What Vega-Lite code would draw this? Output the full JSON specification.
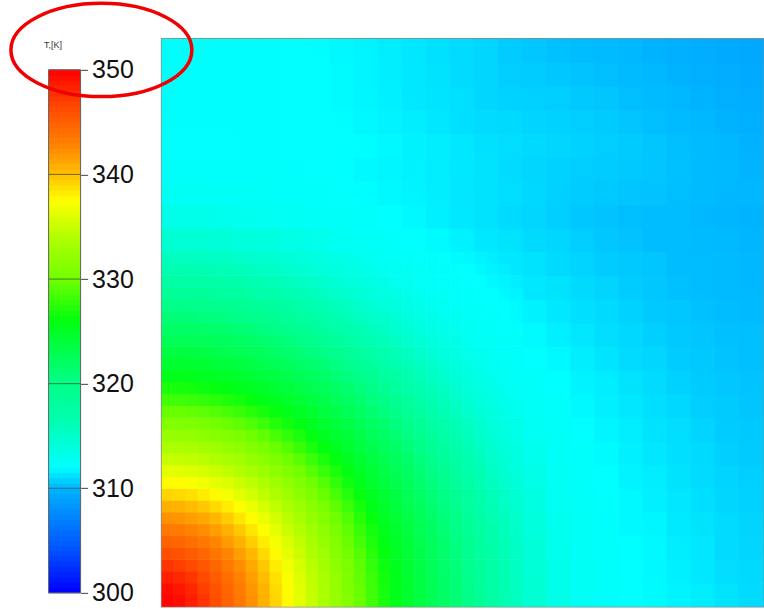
{
"$schema": "https://vega.github.io/schema/vega-lite/v6.json",
"padding": {"left": 7.6, "top": 0.85, "right": 0, "bottom": 0},
"autosize": {"type": "pad"},
"background": "white",
"bounds": "flush",
"spacing": 81,
"config": {"view": {"stroke": null}, "font": "Liberation Sans"},
"datasets": {
"bar": [{"t":300.25},{"t":300.75},{"t":301.25},{"t":301.75},{"t":302.25},{"t":302.75},{"t":303.25},{"t":303.75},{"t":304.25},{"t":304.75},{"t":305.25},{"t":305.75},{"t":306.25},{"t":306.75},{"t":307.25},{"t":307.75},{"t":308.25},{"t":308.75},{"t":309.25},{"t":309.75},{"t":310.25},{"t":310.75},{"t":311.25},{"t":311.75},{"t":312.25},{"t":312.75},{"t":313.25},{"t":313.75},{"t":314.25},{"t":314.75},{"t":315.25},{"t":315.75},{"t":316.25},{"t":316.75},{"t":317.25},{"t":317.75},{"t":318.25},{"t":318.75},{"t":319.25},{"t":319.75},{"t":320.25},{"t":320.75},{"t":321.25},{"t":321.75},{"t":322.25},{"t":322.75},{"t":323.25},{"t":323.75},{"t":324.25},{"t":324.75},{"t":325.25},{"t":325.75},{"t":326.25},{"t":326.75},{"t":327.25},{"t":327.75},{"t":328.25},{"t":328.75},{"t":329.25},{"t":329.75},{"t":330.25},{"t":330.75},{"t":331.25},{"t":331.75},{"t":332.25},{"t":332.75},{"t":333.25},{"t":333.75},{"t":334.25},{"t":334.75},{"t":335.25},{"t":335.75},{"t":336.25},{"t":336.75},{"t":337.25},{"t":337.75},{"t":338.25},{"t":338.75},{"t":339.25},{"t":339.75},{"t":340.25},{"t":340.75},{"t":341.25},{"t":341.75},{"t":342.25},{"t":342.75},{"t":343.25},{"t":343.75},{"t":344.25},{"t":344.75},{"t":345.25},{"t":345.75},{"t":346.25},{"t":346.75},{"t":347.25},{"t":347.75},{"t":348.25},{"t":348.75},{"t":349.25},{"t":349.75}],
"ticks": [{"t":310},{"t":320},{"t":330},{"t":340}],
"note": [{"i":-3.0,"j":23.03}],
"fine": [
{"i":-0.25,"j":-0.25,"t":349.8},{"i":0.25,"j":-0.25,"t":349.4},{"i":0.75,"j":-0.25,"t":348.5},{"i":1.25,"j":-0.25,"t":347.4},{"i":1.75,"j":-0.25,"t":346.1},{"i":2.25,"j":-0.25,"t":344.8},{"i":2.75,"j":-0.25,"t":343.5},{"i":3.25,"j":-0.25,"t":342.2},{"i":3.75,"j":-0.25,"t":340.7},{"i":4.25,"j":-0.25,"t":339.2},{"i":4.75,"j":-0.25,"t":337.7},{"i":5.25,"j":-0.25,"t":336.3},{"i":5.75,"j":-0.25,"t":335.0},{"i":6.25,"j":-0.25,"t":333.7},{"i":6.75,"j":-0.25,"t":332.4},{"i":7.25,"j":-0.25,"t":331.1},{"i":7.75,"j":-0.25,"t":329.7},{"i":8.25,"j":-0.25,"t":328.3},{"i":8.75,"j":-0.25,"t":326.9},{"i":9.25,"j":-0.25,"t":325.6},{"i":9.75,"j":-0.25,"t":324.6},{"i":10.25,"j":-0.25,"t":323.7},{"i":10.75,"j":-0.25,"t":322.8},{"i":11.25,"j":-0.25,"t":321.9},{"i":11.75,"j":-0.25,"t":320.9},{"i":12.25,"j":-0.25,"t":319.9},{"i":12.75,"j":-0.25,"t":318.7},{"i":13.25,"j":-0.25,"t":317.5},{"i":13.75,"j":-0.25,"t":316.5},{"i":14.25,"j":-0.25,"t":315.7},
{"i":-0.25,"j":0.25,"t":349.4},{"i":0.25,"j":0.25,"t":349.0},{"i":0.75,"j":0.25,"t":348.1},{"i":1.25,"j":0.25,"t":347.0},{"i":1.75,"j":0.25,"t":345.8},{"i":2.25,"j":0.25,"t":344.6},{"i":2.75,"j":0.25,"t":343.3},{"i":3.25,"j":0.25,"t":342.0},{"i":3.75,"j":0.25,"t":340.6},{"i":4.25,"j":0.25,"t":339.0},{"i":4.75,"j":0.25,"t":337.6},{"i":5.25,"j":0.25,"t":336.2},{"i":5.75,"j":0.25,"t":334.9},{"i":6.25,"j":0.25,"t":333.6},{"i":6.75,"j":0.25,"t":332.3},{"i":7.25,"j":0.25,"t":331.0},{"i":7.75,"j":0.25,"t":329.7},{"i":8.25,"j":0.25,"t":328.2},{"i":8.75,"j":0.25,"t":326.8},{"i":9.25,"j":0.25,"t":325.6},{"i":9.75,"j":0.25,"t":324.6},{"i":10.25,"j":0.25,"t":323.7},{"i":10.75,"j":0.25,"t":322.8},{"i":11.25,"j":0.25,"t":321.9},{"i":11.75,"j":0.25,"t":320.9},{"i":12.25,"j":0.25,"t":319.8},{"i":12.75,"j":0.25,"t":318.7},{"i":13.25,"j":0.25,"t":317.5},{"i":13.75,"j":0.25,"t":316.5},{"i":14.25,"j":0.25,"t":315.6},
{"i":-0.25,"j":0.75,"t":348.5},{"i":0.25,"j":0.75,"t":348.1},{"i":0.75,"j":0.75,"t":347.4},{"i":1.25,"j":0.75,"t":346.4},{"i":1.75,"j":0.75,"t":345.3},{"i":2.25,"j":0.75,"t":344.1},{"i":2.75,"j":0.75,"t":342.9},{"i":3.25,"j":0.75,"t":341.6},{"i":3.75,"j":0.75,"t":340.2},{"i":4.25,"j":0.75,"t":338.7},{"i":4.75,"j":0.75,"t":337.3},{"i":5.25,"j":0.75,"t":336.0},{"i":5.75,"j":0.75,"t":334.7},{"i":6.25,"j":0.75,"t":333.5},{"i":6.75,"j":0.75,"t":332.2},{"i":7.25,"j":0.75,"t":330.8},{"i":7.75,"j":0.75,"t":329.5},{"i":8.25,"j":0.75,"t":328.1},{"i":8.75,"j":0.75,"t":326.7},{"i":9.25,"j":0.75,"t":325.5},{"i":9.75,"j":0.75,"t":324.5},{"i":10.25,"j":0.75,"t":323.6},{"i":10.75,"j":0.75,"t":322.7},{"i":11.25,"j":0.75,"t":321.8},{"i":11.75,"j":0.75,"t":320.8},{"i":12.25,"j":0.75,"t":319.7},{"i":12.75,"j":0.75,"t":318.6},{"i":13.25,"j":0.75,"t":317.4},{"i":13.75,"j":0.75,"t":316.45},{"i":14.25,"j":0.75,"t":315.55},
{"i":-0.25,"j":1.25,"t":347.4},{"i":0.25,"j":1.25,"t":347.0},{"i":0.75,"j":1.25,"t":346.4},{"i":1.25,"j":1.25,"t":345.6},{"i":1.75,"j":1.25,"t":344.6},{"i":2.25,"j":1.25,"t":343.5},{"i":2.75,"j":1.25,"t":342.4},{"i":3.25,"j":1.25,"t":341.1},{"i":3.75,"j":1.25,"t":339.7},{"i":4.25,"j":1.25,"t":338.2},{"i":4.75,"j":1.25,"t":336.9},{"i":5.25,"j":1.25,"t":335.7},{"i":5.75,"j":1.25,"t":334.4},{"i":6.25,"j":1.25,"t":333.2},{"i":6.75,"j":1.25,"t":331.9},{"i":7.25,"j":1.25,"t":330.6},{"i":7.75,"j":1.25,"t":329.3},{"i":8.25,"j":1.25,"t":327.8},{"i":8.75,"j":1.25,"t":326.4},{"i":9.25,"j":1.25,"t":325.3},{"i":9.75,"j":1.25,"t":324.4},{"i":10.25,"j":1.25,"t":323.5},{"i":10.75,"j":1.25,"t":322.6},{"i":11.25,"j":1.25,"t":321.7},{"i":11.75,"j":1.25,"t":320.7},{"i":12.25,"j":1.25,"t":319.6},{"i":12.75,"j":1.25,"t":318.4},{"i":13.25,"j":1.25,"t":317.3},{"i":13.75,"j":1.25,"t":316.4},{"i":14.25,"j":1.25,"t":315.5},
{"i":-0.25,"j":1.75,"t":346.1},{"i":0.25,"j":1.75,"t":345.8},{"i":0.75,"j":1.75,"t":345.3},{"i":1.25,"j":1.75,"t":344.6},{"i":1.75,"j":1.75,"t":343.7},{"i":2.25,"j":1.75,"t":342.8},{"i":2.75,"j":1.75,"t":341.6},{"i":3.25,"j":1.75,"t":340.4},{"i":3.75,"j":1.75,"t":339.0},{"i":4.25,"j":1.75,"t":337.7},{"i":4.75,"j":1.75,"t":336.4},{"i":5.25,"j":1.75,"t":335.2},{"i":5.75,"j":1.75,"t":334.0},{"i":6.25,"j":1.75,"t":332.8},{"i":6.75,"j":1.75,"t":331.5},{"i":7.25,"j":1.75,"t":330.2},{"i":7.75,"j":1.75,"t":329.0},{"i":8.25,"j":1.75,"t":327.5},{"i":8.75,"j":1.75,"t":326.2},{"i":9.25,"j":1.75,"t":325.1},{"i":9.75,"j":1.75,"t":324.2},{"i":10.25,"j":1.75,"t":323.3},{"i":10.75,"j":1.75,"t":322.4},{"i":11.25,"j":1.75,"t":321.6},{"i":11.75,"j":1.75,"t":320.5},{"i":12.25,"j":1.75,"t":319.4},{"i":12.75,"j":1.75,"t":318.2},{"i":13.25,"j":1.75,"t":317.15},{"i":13.75,"j":1.75,"t":316.2},{"i":14.25,"j":1.75,"t":315.35},
{"i":-0.25,"j":2.25,"t":344.8},{"i":0.25,"j":2.25,"t":344.6},{"i":0.75,"j":2.25,"t":344.1},{"i":1.25,"j":2.25,"t":343.5},{"i":1.75,"j":2.25,"t":342.8},{"i":2.25,"j":2.25,"t":341.8},{"i":2.75,"j":2.25,"t":340.7},{"i":3.25,"j":2.25,"t":339.5},{"i":3.75,"j":2.25,"t":338.2},{"i":4.25,"j":2.25,"t":337.0},{"i":4.75,"j":2.25,"t":335.9},{"i":5.25,"j":2.25,"t":334.7},{"i":5.75,"j":2.25,"t":333.5},{"i":6.25,"j":2.25,"t":332.3},{"i":6.75,"j":2.25,"t":331.1},{"i":7.25,"j":2.25,"t":329.8},{"i":7.75,"j":2.25,"t":328.5},{"i":8.25,"j":2.25,"t":327.1},{"i":8.75,"j":2.25,"t":325.9},{"i":9.25,"j":2.25,"t":324.9},{"i":9.75,"j":2.25,"t":324.0},{"i":10.25,"j":2.25,"t":323.1},{"i":10.75,"j":2.25,"t":322.3},{"i":11.25,"j":2.25,"t":321.35},{"i":11.75,"j":2.25,"t":320.3},{"i":12.25,"j":2.25,"t":319.2},{"i":12.75,"j":2.25,"t":318.0},{"i":13.25,"j":2.25,"t":317.0},{"i":13.75,"j":2.25,"t":316.1},{"i":14.25,"j":2.25,"t":315.2},
{"i":-0.25,"j":2.75,"t":343.5},{"i":0.25,"j":2.75,"t":343.3},{"i":0.75,"j":2.75,"t":342.9},{"i":1.25,"j":2.75,"t":342.4},{"i":1.75,"j":2.75,"t":341.6},{"i":2.25,"j":2.75,"t":340.7},{"i":2.75,"j":2.75,"t":339.7},{"i":3.25,"j":2.75,"t":338.5},{"i":3.75,"j":2.75,"t":337.4},{"i":4.25,"j":2.75,"t":336.3},{"i":4.75,"j":2.75,"t":335.2},{"i":5.25,"j":2.75,"t":334.1},{"i":5.75,"j":2.75,"t":333.0},{"i":6.25,"j":2.75,"t":331.8},{"i":6.75,"j":2.75,"t":330.6},{"i":7.25,"j":2.75,"t":329.4},{"i":7.75,"j":2.75,"t":328.0},{"i":8.25,"j":2.75,"t":326.7},{"i":8.75,"j":2.75,"t":325.5},{"i":9.25,"j":2.75,"t":324.6},{"i":9.75,"j":2.75,"t":323.7},{"i":10.25,"j":2.75,"t":322.9},{"i":10.75,"j":2.75,"t":322.0},{"i":11.25,"j":2.75,"t":321.1},{"i":11.75,"j":2.75,"t":320.0},{"i":12.25,"j":2.75,"t":318.9},{"i":12.75,"j":2.75,"t":317.8},{"i":13.25,"j":2.75,"t":316.8},{"i":13.75,"j":2.75,"t":315.9},{"i":14.25,"j":2.75,"t":315.05},
{"i":-0.25,"j":3.25,"t":342.2},{"i":0.25,"j":3.25,"t":342.0},{"i":0.75,"j":3.25,"t":341.6},{"i":1.25,"j":3.25,"t":341.1},{"i":1.75,"j":3.25,"t":340.4},{"i":2.25,"j":3.25,"t":339.5},{"i":2.75,"j":3.25,"t":338.5},{"i":3.25,"j":3.25,"t":337.6},{"i":3.75,"j":3.25,"t":336.6},{"i":4.25,"j":3.25,"t":335.6},{"i":4.75,"j":3.25,"t":334.5},{"i":5.25,"j":3.25,"t":333.5},{"i":5.75,"j":3.25,"t":332.3},{"i":6.25,"j":3.25,"t":331.2},{"i":6.75,"j":3.25,"t":330.0},{"i":7.25,"j":3.25,"t":328.8},{"i":7.75,"j":3.25,"t":327.4},{"i":8.25,"j":3.25,"t":326.2},{"i":8.75,"j":3.25,"t":325.1},{"i":9.25,"j":3.25,"t":324.3},{"i":9.75,"j":3.25,"t":323.5},{"i":10.25,"j":3.25,"t":322.6},{"i":10.75,"j":3.25,"t":321.8},{"i":11.25,"j":3.25,"t":320.8},{"i":11.75,"j":3.25,"t":319.7},{"i":12.25,"j":3.25,"t":318.6},{"i":12.75,"j":3.25,"t":317.5},{"i":13.25,"j":3.25,"t":316.5},{"i":13.75,"j":3.25,"t":315.7},{"i":14.25,"j":3.25,"t":314.9},
{"i":-0.25,"j":3.75,"t":340.7},{"i":0.25,"j":3.75,"t":340.6},{"i":0.75,"j":3.75,"t":340.2},{"i":1.25,"j":3.75,"t":339.7},{"i":1.75,"j":3.75,"t":339.0},{"i":2.25,"j":3.75,"t":338.2},{"i":2.75,"j":3.75,"t":337.4},{"i":3.25,"j":3.75,"t":336.6},{"i":3.75,"j":3.75,"t":335.7},{"i":4.25,"j":3.75,"t":334.7},{"i":4.75,"j":3.75,"t":333.7},{"i":5.25,"j":3.75,"t":332.7},{"i":5.75,"j":3.75,"t":331.6},{"i":6.25,"j":3.75,"t":330.5},{"i":6.75,"j":3.75,"t":329.4},{"i":7.25,"j":3.75,"t":328.1},{"i":7.75,"j":3.75,"t":326.8},{"i":8.25,"j":3.75,"t":325.7},{"i":8.75,"j":3.75,"t":324.8},{"i":9.25,"j":3.75,"t":324.0},{"i":9.75,"j":3.75,"t":323.1},{"i":10.25,"j":3.75,"t":322.3},{"i":10.75,"j":3.75,"t":321.4},{"i":11.25,"j":3.75,"t":320.4},{"i":11.75,"j":3.75,"t":319.4},{"i":12.25,"j":3.75,"t":318.2},{"i":12.75,"j":3.75,"t":317.2},{"i":13.25,"j":3.75,"t":316.3},{"i":13.75,"j":3.75,"t":315.4},{"i":14.25,"j":3.75,"t":314.7},
{"i":-0.25,"j":4.25,"t":339.2},{"i":0.25,"j":4.25,"t":339.0},{"i":0.75,"j":4.25,"t":338.7},{"i":1.25,"j":4.25,"t":338.2},{"i":1.75,"j":4.25,"t":337.7},{"i":2.25,"j":4.25,"t":337.0},{"i":2.75,"j":4.25,"t":336.3},{"i":3.25,"j":4.25,"t":335.6},{"i":3.75,"j":4.25,"t":334.7},{"i":4.25,"j":4.25,"t":333.8},{"i":4.75,"j":4.25,"t":332.9},{"i":5.25,"j":4.25,"t":331.9},{"i":5.75,"j":4.25,"t":330.8},{"i":6.25,"j":4.25,"t":329.7},{"i":6.75,"j":4.25,"t":328.6},{"i":7.25,"j":4.25,"t":327.3},{"i":7.75,"j":4.25,"t":326.2},{"i":8.25,"j":4.25,"t":325.2},{"i":8.75,"j":4.25,"t":324.4},{"i":9.25,"j":4.25,"t":323.6},{"i":9.75,"j":4.25,"t":322.8},{"i":10.25,"j":4.25,"t":321.9},{"i":10.75,"j":4.25,"t":321.0},{"i":11.25,"j":4.25,"t":320.0},{"i":11.75,"j":4.25,"t":319.0},{"i":12.25,"j":4.25,"t":317.9},{"i":12.75,"j":4.25,"t":316.9},{"i":13.25,"j":4.25,"t":316.0},{"i":13.75,"j":4.25,"t":315.2},{"i":14.25,"j":4.25,"t":314.5},
{"i":-0.25,"j":4.75,"t":337.7},{"i":0.25,"j":4.75,"t":337.6},{"i":0.75,"j":4.75,"t":337.3},{"i":1.25,"j":4.75,"t":336.9},{"i":1.75,"j":4.75,"t":336.4},{"i":2.25,"j":4.75,"t":335.9},{"i":2.75,"j":4.75,"t":335.2},{"i":3.25,"j":4.75,"t":334.5},{"i":3.75,"j":4.75,"t":333.7},{"i":4.25,"j":4.75,"t":332.9},{"i":4.75,"j":4.75,"t":332.0},{"i":5.25,"j":4.75,"t":331.0},{"i":5.75,"j":4.75,"t":330.0},{"i":6.25,"j":4.75,"t":329.0},{"i":6.75,"j":4.75,"t":327.7},{"i":7.25,"j":4.75,"t":326.6},{"i":7.75,"j":4.75,"t":325.6},{"i":8.25,"j":4.75,"t":324.7},{"i":8.75,"j":4.75,"t":324.0},{"i":9.25,"j":4.75,"t":323.2},{"i":9.75,"j":4.75,"t":322.4},{"i":10.25,"j":4.75,"t":321.6},{"i":10.75,"j":4.75,"t":320.6},{"i":11.25,"j":4.75,"t":319.6},{"i":11.75,"j":4.75,"t":318.5},{"i":12.25,"j":4.75,"t":317.5},{"i":12.75,"j":4.75,"t":316.5},{"i":13.25,"j":4.75,"t":315.7},{"i":13.75,"j":4.75,"t":314.9},{"i":14.25,"j":4.75,"t":314.3},
{"i":-0.25,"j":5.25,"t":336.3},{"i":0.25,"j":5.25,"t":336.2},{"i":0.75,"j":5.25,"t":336.0},{"i":1.25,"j":5.25,"t":335.7},{"i":1.75,"j":5.25,"t":335.2},{"i":2.25,"j":5.25,"t":334.7},{"i":2.75,"j":5.25,"t":334.1},{"i":3.25,"j":5.25,"t":333.5},{"i":3.75,"j":5.25,"t":332.7},{"i":4.25,"j":5.25,"t":331.9},{"i":4.75,"j":5.25,"t":331.0},{"i":5.25,"j":5.25,"t":330.1},{"i":5.75,"j":5.25,"t":329.1},{"i":6.25,"j":5.25,"t":328.0},{"i":6.75,"j":5.25,"t":326.9},{"i":7.25,"j":5.25,"t":325.9},{"i":7.75,"j":5.25,"t":325.0},{"i":8.25,"j":5.25,"t":324.3},{"i":8.75,"j":5.25,"t":323.5},{"i":9.25,"j":5.25,"t":322.7},{"i":9.75,"j":5.25,"t":321.9},{"i":10.25,"j":5.25,"t":321.1},{"i":10.75,"j":5.25,"t":320.1},{"i":11.25,"j":5.25,"t":319.1},{"i":11.75,"j":5.25,"t":318.0},{"i":12.25,"j":5.25,"t":317.0},{"i":12.75,"j":5.25,"t":316.2},{"i":13.25,"j":5.25,"t":315.35},{"i":13.75,"j":5.25,"t":314.7},{"i":14.25,"j":5.25,"t":314.0},
{"i":-0.25,"j":5.75,"t":335.0},{"i":0.25,"j":5.75,"t":334.9},{"i":0.75,"j":5.75,"t":334.7},{"i":1.25,"j":5.75,"t":334.4},{"i":1.75,"j":5.75,"t":334.0},{"i":2.25,"j":5.75,"t":333.5},{"i":2.75,"j":5.75,"t":333.0},{"i":3.25,"j":5.75,"t":332.3},{"i":3.75,"j":5.75,"t":331.6},{"i":4.25,"j":5.75,"t":330.8},{"i":4.75,"j":5.75,"t":330.0},{"i":5.25,"j":5.75,"t":329.1},{"i":5.75,"j":5.75,"t":328.1},{"i":6.25,"j":5.75,"t":327.0},{"i":6.75,"j":5.75,"t":326.0},{"i":7.25,"j":5.75,"t":325.2},{"i":7.75,"j":5.75,"t":324.5},{"i":8.25,"j":5.75,"t":323.7},{"i":8.75,"j":5.75,"t":323.0},{"i":9.25,"j":5.75,"t":322.3},{"i":9.75,"j":5.75,"t":321.5},{"i":10.25,"j":5.75,"t":320.6},{"i":10.75,"j":5.75,"t":319.6},{"i":11.25,"j":5.75,"t":318.6},{"i":11.75,"j":5.75,"t":317.5},{"i":12.25,"j":5.75,"t":316.6},{"i":12.75,"j":5.75,"t":315.8},{"i":13.25,"j":5.75,"t":315.05},{"i":13.75,"j":5.75,"t":314.4},{"i":14.25,"j":5.75,"t":313.8},
{"i":-0.25,"j":6.25,"t":333.7},{"i":0.25,"j":6.25,"t":333.6},{"i":0.75,"j":6.25,"t":333.5},{"i":1.25,"j":6.25,"t":333.2},{"i":1.75,"j":6.25,"t":332.8},{"i":2.25,"j":6.25,"t":332.3},{"i":2.75,"j":6.25,"t":331.8},{"i":3.25,"j":6.25,"t":331.2},{"i":3.75,"j":6.25,"t":330.5},{"i":4.25,"j":6.25,"t":329.7},{"i":4.75,"j":6.25,"t":329.0},{"i":5.25,"j":6.25,"t":328.0},{"i":5.75,"j":6.25,"t":327.0},{"i":6.25,"j":6.25,"t":326.1},{"i":6.75,"j":6.25,"t":325.3},{"i":7.25,"j":6.25,"t":324.6},{"i":7.75,"j":6.25,"t":323.9},{"i":8.25,"j":6.25,"t":323.2},{"i":8.75,"j":6.25,"t":322.5},{"i":9.25,"j":6.25,"t":321.8},{"i":9.75,"j":6.25,"t":320.9},{"i":10.25,"j":6.25,"t":320.0},{"i":10.75,"j":6.25,"t":319.0},{"i":11.25,"j":6.25,"t":318.0},{"i":11.75,"j":6.25,"t":317.0},{"i":12.25,"j":6.25,"t":316.2},{"i":12.75,"j":6.25,"t":315.4},{"i":13.25,"j":6.25,"t":314.75},{"i":13.75,"j":6.25,"t":314.1},{"i":14.25,"j":6.25,"t":313.6},
{"i":-0.25,"j":6.75,"t":332.4},{"i":0.25,"j":6.75,"t":332.3},{"i":0.75,"j":6.75,"t":332.2},{"i":1.25,"j":6.75,"t":331.9},{"i":1.75,"j":6.75,"t":331.5},{"i":2.25,"j":6.75,"t":331.1},{"i":2.75,"j":6.75,"t":330.6},{"i":3.25,"j":6.75,"t":330.0},{"i":3.75,"j":6.75,"t":329.4},{"i":4.25,"j":6.75,"t":328.6},{"i":4.75,"j":6.75,"t":327.7},{"i":5.25,"j":6.75,"t":326.9},{"i":5.75,"j":6.75,"t":326.0},{"i":6.25,"j":6.75,"t":325.3},{"i":6.75,"j":6.75,"t":324.6},{"i":7.25,"j":6.75,"t":324.0},{"i":7.75,"j":6.75,"t":323.3},{"i":8.25,"j":6.75,"t":322.6},{"i":8.75,"j":6.75,"t":321.9},{"i":9.25,"j":6.75,"t":321.2},{"i":9.75,"j":6.75,"t":320.3},{"i":10.25,"j":6.75,"t":319.4},{"i":10.75,"j":6.75,"t":318.4},{"i":11.25,"j":6.75,"t":317.4},{"i":11.75,"j":6.75,"t":316.6},{"i":12.25,"j":6.75,"t":315.8},{"i":12.75,"j":6.75,"t":315.05},{"i":13.25,"j":6.75,"t":314.4},{"i":13.75,"j":6.75,"t":313.8},{"i":14.25,"j":6.75,"t":313.35},
{"i":-0.25,"j":7.25,"t":331.1},{"i":0.25,"j":7.25,"t":331.0},{"i":0.75,"j":7.25,"t":330.8},{"i":1.25,"j":7.25,"t":330.6},{"i":1.75,"j":7.25,"t":330.2},{"i":2.25,"j":7.25,"t":329.8},{"i":2.75,"j":7.25,"t":329.4},{"i":3.25,"j":7.25,"t":328.8},{"i":3.75,"j":7.25,"t":328.1},{"i":4.25,"j":7.25,"t":327.3},{"i":4.75,"j":7.25,"t":326.6},{"i":5.25,"j":7.25,"t":325.9},{"i":5.75,"j":7.25,"t":325.2},{"i":6.25,"j":7.25,"t":324.6},{"i":6.75,"j":7.25,"t":324.0},{"i":7.25,"j":7.25,"t":323.4},{"i":7.75,"j":7.25,"t":322.7},{"i":8.25,"j":7.25,"t":322.1},{"i":8.75,"j":7.25,"t":321.4},{"i":9.25,"j":7.25,"t":320.5},{"i":9.75,"j":7.25,"t":319.6},{"i":10.25,"j":7.25,"t":318.7},{"i":10.75,"j":7.25,"t":317.7},{"i":11.25,"j":7.25,"t":316.9},{"i":11.75,"j":7.25,"t":316.1},{"i":12.25,"j":7.25,"t":315.4},{"i":12.75,"j":7.25,"t":314.7},{"i":13.25,"j":7.25,"t":314.1},{"i":13.75,"j":7.25,"t":313.6},{"i":14.25,"j":7.25,"t":313.15},
{"i":-0.25,"j":7.75,"t":329.7},{"i":0.25,"j":7.75,"t":329.7},{"i":0.75,"j":7.75,"t":329.5},{"i":1.25,"j":7.75,"t":329.3},{"i":1.75,"j":7.75,"t":329.0},{"i":2.25,"j":7.75,"t":328.5},{"i":2.75,"j":7.75,"t":328.0},{"i":3.25,"j":7.75,"t":327.4},{"i":3.75,"j":7.75,"t":326.8},{"i":4.25,"j":7.75,"t":326.2},{"i":4.75,"j":7.75,"t":325.6},{"i":5.25,"j":7.75,"t":325.0},{"i":5.75,"j":7.75,"t":324.5},{"i":6.25,"j":7.75,"t":323.9},{"i":6.75,"j":7.75,"t":323.3},{"i":7.25,"j":7.75,"t":322.7},{"i":7.75,"j":7.75,"t":322.1},{"i":8.25,"j":7.75,"t":321.4},{"i":8.75,"j":7.75,"t":320.6},{"i":9.25,"j":7.75,"t":319.8},{"i":9.75,"j":7.75,"t":318.9},{"i":10.25,"j":7.75,"t":318.0},{"i":10.75,"j":7.75,"t":317.1},{"i":11.25,"j":7.75,"t":316.4},{"i":11.75,"j":7.75,"t":315.6},{"i":12.25,"j":7.75,"t":314.9},{"i":12.75,"j":7.75,"t":314.3},{"i":13.25,"j":7.75,"t":313.8},{"i":13.75,"j":7.75,"t":313.35},{"i":14.25,"j":7.75,"t":312.9},
{"i":-0.25,"j":8.25,"t":328.3},{"i":0.25,"j":8.25,"t":328.2},{"i":0.75,"j":8.25,"t":328.1},{"i":1.25,"j":8.25,"t":327.8},{"i":1.75,"j":8.25,"t":327.5},{"i":2.25,"j":8.25,"t":327.1},{"i":2.75,"j":8.25,"t":326.7},{"i":3.25,"j":8.25,"t":326.2},{"i":3.75,"j":8.25,"t":325.7},{"i":4.25,"j":8.25,"t":325.2},{"i":4.75,"j":8.25,"t":324.7},{"i":5.25,"j":8.25,"t":324.3},{"i":5.75,"j":8.25,"t":323.7},{"i":6.25,"j":8.25,"t":323.2},{"i":6.75,"j":8.25,"t":322.6},{"i":7.25,"j":8.25,"t":322.1},{"i":7.75,"j":8.25,"t":321.4},{"i":8.25,"j":8.25,"t":320.7},{"i":8.75,"j":8.25,"t":319.9},{"i":9.25,"j":8.25,"t":319.1},{"i":9.75,"j":8.25,"t":318.2},{"i":10.25,"j":8.25,"t":317.3},{"i":10.75,"j":8.25,"t":316.5},{"i":11.25,"j":8.25,"t":315.8},{"i":11.75,"j":8.25,"t":315.1},{"i":12.25,"j":8.25,"t":314.5},{"i":12.75,"j":8.25,"t":314.0},{"i":13.25,"j":8.25,"t":313.5},{"i":13.75,"j":8.25,"t":313.1},{"i":14.25,"j":8.25,"t":312.75},
{"i":-0.25,"j":8.75,"t":326.9},{"i":0.25,"j":8.75,"t":326.8},{"i":0.75,"j":8.75,"t":326.7},{"i":1.25,"j":8.75,"t":326.4},{"i":1.75,"j":8.75,"t":326.2},{"i":2.25,"j":8.75,"t":325.9},{"i":2.75,"j":8.75,"t":325.5},{"i":3.25,"j":8.75,"t":325.1},{"i":3.75,"j":8.75,"t":324.8},{"i":4.25,"j":8.75,"t":324.4},{"i":4.75,"j":8.75,"t":324.0},{"i":5.25,"j":8.75,"t":323.5},{"i":5.75,"j":8.75,"t":323.0},{"i":6.25,"j":8.75,"t":322.5},{"i":6.75,"j":8.75,"t":321.9},{"i":7.25,"j":8.75,"t":321.4},{"i":7.75,"j":8.75,"t":320.6},{"i":8.25,"j":8.75,"t":319.9},{"i":8.75,"j":8.75,"t":319.1},{"i":9.25,"j":8.75,"t":318.2},{"i":9.75,"j":8.75,"t":317.4},{"i":10.25,"j":8.75,"t":316.7},{"i":10.75,"j":8.75,"t":316.0},{"i":11.25,"j":8.75,"t":315.3},{"i":11.75,"j":8.75,"t":314.7},{"i":12.25,"j":8.75,"t":314.1},{"i":12.75,"j":8.75,"t":313.6},{"i":13.25,"j":8.75,"t":313.2},{"i":13.75,"j":8.75,"t":312.8},{"i":14.25,"j":8.75,"t":312.65},
{"i":-0.25,"j":9.25,"t":325.6},{"i":0.25,"j":9.25,"t":325.6},{"i":0.75,"j":9.25,"t":325.5},{"i":1.25,"j":9.25,"t":325.3},{"i":1.75,"j":9.25,"t":325.1},{"i":2.25,"j":9.25,"t":324.9},{"i":2.75,"j":9.25,"t":324.6},{"i":3.25,"j":9.25,"t":324.3},{"i":3.75,"j":9.25,"t":324.0},{"i":4.25,"j":9.25,"t":323.6},{"i":4.75,"j":9.25,"t":323.2},{"i":5.25,"j":9.25,"t":322.7},{"i":5.75,"j":9.25,"t":322.3},{"i":6.25,"j":9.25,"t":321.8},{"i":6.75,"j":9.25,"t":321.2},{"i":7.25,"j":9.25,"t":320.5},{"i":7.75,"j":9.25,"t":319.8},{"i":8.25,"j":9.25,"t":319.1},{"i":8.75,"j":9.25,"t":318.2},{"i":9.25,"j":9.25,"t":317.5},{"i":9.75,"j":9.25,"t":316.7},{"i":10.25,"j":9.25,"t":316.1},{"i":10.75,"j":9.25,"t":315.4},{"i":11.25,"j":9.25,"t":314.8},{"i":11.75,"j":9.25,"t":314.3},{"i":12.25,"j":9.25,"t":313.75},{"i":12.75,"j":9.25,"t":313.35},{"i":13.25,"j":9.25,"t":312.95},{"i":13.75,"j":9.25,"t":312.7},{"i":14.25,"j":9.25,"t":312.5},
{"i":-0.25,"j":9.75,"t":324.6},{"i":0.25,"j":9.75,"t":324.6},{"i":0.75,"j":9.75,"t":324.5},{"i":1.25,"j":9.75,"t":324.4},{"i":1.75,"j":9.75,"t":324.2},{"i":2.25,"j":9.75,"t":324.0},{"i":2.75,"j":9.75,"t":323.7},{"i":3.25,"j":9.75,"t":323.5},{"i":3.75,"j":9.75,"t":323.1},{"i":4.25,"j":9.75,"t":322.8},{"i":4.75,"j":9.75,"t":322.4},{"i":5.25,"j":9.75,"t":321.9},{"i":5.75,"j":9.75,"t":321.5},{"i":6.25,"j":9.75,"t":320.9},{"i":6.75,"j":9.75,"t":320.3},{"i":7.25,"j":9.75,"t":319.6},{"i":7.75,"j":9.75,"t":318.9},{"i":8.25,"j":9.75,"t":318.2},{"i":8.75,"j":9.75,"t":317.4},{"i":9.25,"j":9.75,"t":316.7},{"i":9.75,"j":9.75,"t":316.1},{"i":10.25,"j":9.75,"t":315.5},{"i":10.75,"j":9.75,"t":314.9},{"i":11.25,"j":9.75,"t":314.4},{"i":11.75,"j":9.75,"t":313.8},{"i":12.25,"j":9.75,"t":313.4},{"i":12.75,"j":9.75,"t":313.05},{"i":13.25,"j":9.75,"t":312.75},{"i":13.75,"j":9.75,"t":312.6},{"i":14.25,"j":9.75,"t":312.4},
{"i":-0.25,"j":10.25,"t":323.7},{"i":0.25,"j":10.25,"t":323.7},{"i":0.75,"j":10.25,"t":323.6},{"i":1.25,"j":10.25,"t":323.5},{"i":1.75,"j":10.25,"t":323.3},{"i":2.25,"j":10.25,"t":323.1},{"i":2.75,"j":10.25,"t":322.9},{"i":3.25,"j":10.25,"t":322.6},{"i":3.75,"j":10.25,"t":322.3},{"i":4.25,"j":10.25,"t":321.9},{"i":4.75,"j":10.25,"t":321.6},{"i":5.25,"j":10.25,"t":321.1},{"i":5.75,"j":10.25,"t":320.6},{"i":6.25,"j":10.25,"t":320.0},{"i":6.75,"j":10.25,"t":319.4},{"i":7.25,"j":10.25,"t":318.7},{"i":7.75,"j":10.25,"t":318.0},{"i":8.25,"j":10.25,"t":317.3},{"i":8.75,"j":10.25,"t":316.7},{"i":9.25,"j":10.25,"t":316.1},{"i":9.75,"j":10.25,"t":315.5},{"i":10.25,"j":10.25,"t":314.9},{"i":10.75,"j":10.25,"t":314.4},{"i":11.25,"j":10.25,"t":313.9},{"i":11.75,"j":10.25,"t":313.5},{"i":12.25,"j":10.25,"t":313.1},{"i":12.75,"j":10.25,"t":312.8},{"i":13.25,"j":10.25,"t":312.6},{"i":13.75,"j":10.25,"t":312.45},{"i":14.25,"j":10.25,"t":312.3},
{"i":-0.25,"j":10.75,"t":322.8},{"i":0.25,"j":10.75,"t":322.8},{"i":0.75,"j":10.75,"t":322.7},{"i":1.25,"j":10.75,"t":322.6},{"i":1.75,"j":10.75,"t":322.4},{"i":2.25,"j":10.75,"t":322.3},{"i":2.75,"j":10.75,"t":322.0},{"i":3.25,"j":10.75,"t":321.8},{"i":3.75,"j":10.75,"t":321.4},{"i":4.25,"j":10.75,"t":321.0},{"i":4.75,"j":10.75,"t":320.6},{"i":5.25,"j":10.75,"t":320.1},{"i":5.75,"j":10.75,"t":319.6},{"i":6.25,"j":10.75,"t":319.0},{"i":6.75,"j":10.75,"t":318.4},{"i":7.25,"j":10.75,"t":317.7},{"i":7.75,"j":10.75,"t":317.1},{"i":8.25,"j":10.75,"t":316.5},{"i":8.75,"j":10.75,"t":316.0},{"i":9.25,"j":10.75,"t":315.4},{"i":9.75,"j":10.75,"t":314.9},{"i":10.25,"j":10.75,"t":314.4},{"i":10.75,"j":10.75,"t":313.9},{"i":11.25,"j":10.75,"t":313.5},{"i":11.75,"j":10.75,"t":313.2},{"i":12.25,"j":10.75,"t":312.8},{"i":12.75,"j":10.75,"t":312.65},{"i":13.25,"j":10.75,"t":312.5},{"i":13.75,"j":10.75,"t":312.35},{"i":14.25,"j":10.75,"t":312.2},
{"i":-0.25,"j":11.25,"t":321.9},{"i":0.25,"j":11.25,"t":321.9},{"i":0.75,"j":11.25,"t":321.8},{"i":1.25,"j":11.25,"t":321.7},{"i":1.75,"j":11.25,"t":321.6},{"i":2.25,"j":11.25,"t":321.35},{"i":2.75,"j":11.25,"t":321.1},{"i":3.25,"j":11.25,"t":320.8},{"i":3.75,"j":11.25,"t":320.4},{"i":4.25,"j":11.25,"t":320.0},{"i":4.75,"j":11.25,"t":319.6},{"i":5.25,"j":11.25,"t":319.1},{"i":5.75,"j":11.25,"t":318.6},{"i":6.25,"j":11.25,"t":318.0},{"i":6.75,"j":11.25,"t":317.4},{"i":7.25,"j":11.25,"t":316.9},{"i":7.75,"j":11.25,"t":316.4},{"i":8.25,"j":11.25,"t":315.8},{"i":8.75,"j":11.25,"t":315.3},{"i":9.25,"j":11.25,"t":314.8},{"i":9.75,"j":11.25,"t":314.4},{"i":10.25,"j":11.25,"t":313.9},{"i":10.75,"j":11.25,"t":313.5},{"i":11.25,"j":11.25,"t":313.2},{"i":11.75,"j":11.25,"t":312.8},{"i":12.25,"j":11.25,"t":312.7},{"i":12.75,"j":11.25,"t":312.5},{"i":13.25,"j":11.25,"t":312.4},{"i":13.75,"j":11.25,"t":312.2},{"i":14.25,"j":11.25,"t":312.1},
{"i":-0.25,"j":11.75,"t":320.9},{"i":0.25,"j":11.75,"t":320.9},{"i":0.75,"j":11.75,"t":320.8},{"i":1.25,"j":11.75,"t":320.7},{"i":1.75,"j":11.75,"t":320.5},{"i":2.25,"j":11.75,"t":320.3},{"i":2.75,"j":11.75,"t":320.0},{"i":3.25,"j":11.75,"t":319.7},{"i":3.75,"j":11.75,"t":319.4},{"i":4.25,"j":11.75,"t":319.0},{"i":4.75,"j":11.75,"t":318.5},{"i":5.25,"j":11.75,"t":318.0},{"i":5.75,"j":11.75,"t":317.5},{"i":6.25,"j":11.75,"t":317.0},{"i":6.75,"j":11.75,"t":316.6},{"i":7.25,"j":11.75,"t":316.1},{"i":7.75,"j":11.75,"t":315.6},{"i":8.25,"j":11.75,"t":315.1},{"i":8.75,"j":11.75,"t":314.7},{"i":9.25,"j":11.75,"t":314.3},{"i":9.75,"j":11.75,"t":313.8},{"i":10.25,"j":11.75,"t":313.5},{"i":10.75,"j":11.75,"t":313.2},{"i":11.25,"j":11.75,"t":312.8},{"i":11.75,"j":11.75,"t":312.7},{"i":12.25,"j":11.75,"t":312.5},{"i":12.75,"j":11.75,"t":312.4},{"i":13.25,"j":11.75,"t":312.2},{"i":13.75,"j":11.75,"t":312.1},{"i":14.25,"j":11.75,"t":311.9},
{"i":-0.25,"j":12.25,"t":319.9},{"i":0.25,"j":12.25,"t":319.8},{"i":0.75,"j":12.25,"t":319.7},{"i":1.25,"j":12.25,"t":319.6},{"i":1.75,"j":12.25,"t":319.4},{"i":2.25,"j":12.25,"t":319.2},{"i":2.75,"j":12.25,"t":318.9},{"i":3.25,"j":12.25,"t":318.6},{"i":3.75,"j":12.25,"t":318.2},{"i":4.25,"j":12.25,"t":317.9},{"i":4.75,"j":12.25,"t":317.5},{"i":5.25,"j":12.25,"t":317.0},{"i":5.75,"j":12.25,"t":316.6},{"i":6.25,"j":12.25,"t":316.2},{"i":6.75,"j":12.25,"t":315.8},{"i":7.25,"j":12.25,"t":315.4},{"i":7.75,"j":12.25,"t":314.9},{"i":8.25,"j":12.25,"t":314.5},{"i":8.75,"j":12.25,"t":314.1},{"i":9.25,"j":12.25,"t":313.75},{"i":9.75,"j":12.25,"t":313.4},{"i":10.25,"j":12.25,"t":313.1},{"i":10.75,"j":12.25,"t":312.8},{"i":11.25,"j":12.25,"t":312.7},{"i":11.75,"j":12.25,"t":312.5},{"i":12.25,"j":12.25,"t":312.4},{"i":12.75,"j":12.25,"t":312.2},{"i":13.25,"j":12.25,"t":312.1},{"i":13.75,"j":12.25,"t":312.0},{"i":14.25,"j":12.25,"t":311.8},
{"i":-0.25,"j":12.75,"t":318.7},{"i":0.25,"j":12.75,"t":318.7},{"i":0.75,"j":12.75,"t":318.6},{"i":1.25,"j":12.75,"t":318.4},{"i":1.75,"j":12.75,"t":318.2},{"i":2.25,"j":12.75,"t":318.0},{"i":2.75,"j":12.75,"t":317.8},{"i":3.25,"j":12.75,"t":317.5},{"i":3.75,"j":12.75,"t":317.2},{"i":4.25,"j":12.75,"t":316.9},{"i":4.75,"j":12.75,"t":316.5},{"i":5.25,"j":12.75,"t":316.2},{"i":5.75,"j":12.75,"t":315.8},{"i":6.25,"j":12.75,"t":315.4},{"i":6.75,"j":12.75,"t":315.05},{"i":7.25,"j":12.75,"t":314.7},{"i":7.75,"j":12.75,"t":314.3},{"i":8.25,"j":12.75,"t":314.0},{"i":8.75,"j":12.75,"t":313.6},{"i":9.25,"j":12.75,"t":313.35},{"i":9.75,"j":12.75,"t":313.05},{"i":10.25,"j":12.75,"t":312.8},{"i":10.75,"j":12.75,"t":312.65},{"i":11.25,"j":12.75,"t":312.5},{"i":11.75,"j":12.75,"t":312.4},{"i":12.25,"j":12.75,"t":312.2},{"i":12.75,"j":12.75,"t":312.1},{"i":13.25,"j":12.75,"t":312.0},{"i":13.75,"j":12.75,"t":311.8},{"i":14.25,"j":12.75,"t":311.7},
{"i":-0.25,"j":13.25,"t":317.5},{"i":0.25,"j":13.25,"t":317.5},{"i":0.75,"j":13.25,"t":317.4},{"i":1.25,"j":13.25,"t":317.3},{"i":1.75,"j":13.25,"t":317.15},{"i":2.25,"j":13.25,"t":317.0},{"i":2.75,"j":13.25,"t":316.8},{"i":3.25,"j":13.25,"t":316.5},{"i":3.75,"j":13.25,"t":316.3},{"i":4.25,"j":13.25,"t":316.0},{"i":4.75,"j":13.25,"t":315.7},{"i":5.25,"j":13.25,"t":315.35},{"i":5.75,"j":13.25,"t":315.05},{"i":6.25,"j":13.25,"t":314.75},{"i":6.75,"j":13.25,"t":314.4},{"i":7.25,"j":13.25,"t":314.1},{"i":7.75,"j":13.25,"t":313.8},{"i":8.25,"j":13.25,"t":313.5},{"i":8.75,"j":13.25,"t":313.2},{"i":9.25,"j":13.25,"t":312.95},{"i":9.75,"j":13.25,"t":312.75},{"i":10.25,"j":13.25,"t":312.6},{"i":10.75,"j":13.25,"t":312.5},{"i":11.25,"j":13.25,"t":312.4},{"i":11.75,"j":13.25,"t":312.2},{"i":12.25,"j":13.25,"t":312.1},{"i":12.75,"j":13.25,"t":312.0},{"i":13.25,"j":13.25,"t":311.8},{"i":13.75,"j":13.25,"t":311.7},{"i":14.25,"j":13.25,"t":311.55},
{"i":-0.25,"j":13.75,"t":316.5},{"i":0.25,"j":13.75,"t":316.5},{"i":0.75,"j":13.75,"t":316.45},{"i":1.25,"j":13.75,"t":316.4},{"i":1.75,"j":13.75,"t":316.2},{"i":2.25,"j":13.75,"t":316.1},{"i":2.75,"j":13.75,"t":315.9},{"i":3.25,"j":13.75,"t":315.7},{"i":3.75,"j":13.75,"t":315.4},{"i":4.25,"j":13.75,"t":315.2},{"i":4.75,"j":13.75,"t":314.9},{"i":5.25,"j":13.75,"t":314.7},{"i":5.75,"j":13.75,"t":314.4},{"i":6.25,"j":13.75,"t":314.1},{"i":6.75,"j":13.75,"t":313.8},{"i":7.25,"j":13.75,"t":313.6},{"i":7.75,"j":13.75,"t":313.35},{"i":8.25,"j":13.75,"t":313.1},{"i":8.75,"j":13.75,"t":312.8},{"i":9.25,"j":13.75,"t":312.7},{"i":9.75,"j":13.75,"t":312.6},{"i":10.25,"j":13.75,"t":312.45},{"i":10.75,"j":13.75,"t":312.35},{"i":11.25,"j":13.75,"t":312.2},{"i":11.75,"j":13.75,"t":312.1},{"i":12.25,"j":13.75,"t":312.0},{"i":12.75,"j":13.75,"t":311.8},{"i":13.25,"j":13.75,"t":311.7},{"i":13.75,"j":13.75,"t":311.55},{"i":14.25,"j":13.75,"t":311.4},
{"i":-0.25,"j":14.25,"t":315.7},{"i":0.25,"j":14.25,"t":315.6},{"i":0.75,"j":14.25,"t":315.55},{"i":1.25,"j":14.25,"t":315.5},{"i":1.75,"j":14.25,"t":315.35},{"i":2.25,"j":14.25,"t":315.2},{"i":2.75,"j":14.25,"t":315.05},{"i":3.25,"j":14.25,"t":314.9},{"i":3.75,"j":14.25,"t":314.7},{"i":4.25,"j":14.25,"t":314.5},{"i":4.75,"j":14.25,"t":314.3},{"i":5.25,"j":14.25,"t":314.0},{"i":5.75,"j":14.25,"t":313.8},{"i":6.25,"j":14.25,"t":313.6},{"i":6.75,"j":14.25,"t":313.35},{"i":7.25,"j":14.25,"t":313.15},{"i":7.75,"j":14.25,"t":312.9},{"i":8.25,"j":14.25,"t":312.75},{"i":8.75,"j":14.25,"t":312.65},{"i":9.25,"j":14.25,"t":312.5},{"i":9.75,"j":14.25,"t":312.4},{"i":10.25,"j":14.25,"t":312.3},{"i":10.75,"j":14.25,"t":312.2},{"i":11.25,"j":14.25,"t":312.1},{"i":11.75,"j":14.25,"t":311.9},{"i":12.25,"j":14.25,"t":311.8},{"i":12.75,"j":14.25,"t":311.7},{"i":13.25,"j":14.25,"t":311.55},{"i":13.75,"j":14.25,"t":311.4},{"i":14.25,"j":14.25,"t":311.35}
],
"grid": [
{"i":15,"j":0,"t":314.5},{"i":16,"j":0,"t":313.3},{"i":17,"j":0,"t":312.6},{"i":18,"j":0,"t":312.3},{"i":19,"j":0,"t":312.1},{"i":20,"j":0,"t":311.9},{"i":21,"j":0,"t":311.7},{"i":22,"j":0,"t":311.5},{"i":23,"j":0,"t":311.25},{"i":24,"j":0,"t":311.05},
{"i":15,"j":1,"t":314.4},{"i":16,"j":1,"t":313.2},{"i":17,"j":1,"t":312.6},{"i":18,"j":1,"t":312.3},{"i":19,"j":1,"t":312.05},{"i":20,"j":1,"t":311.8},{"i":21,"j":1,"t":311.6},{"i":22,"j":1,"t":311.4},{"i":23,"j":1,"t":311.1},{"i":24,"j":1,"t":311.0},
{"i":15,"j":2,"t":314.2},{"i":16,"j":2,"t":313.1},{"i":17,"j":2,"t":312.5},{"i":18,"j":2,"t":312.25},{"i":19,"j":2,"t":312.0},{"i":20,"j":2,"t":311.8},{"i":21,"j":2,"t":311.55},{"i":22,"j":2,"t":311.35},{"i":23,"j":2,"t":311.05},{"i":24,"j":2,"t":310.9},
{"i":15,"j":3,"t":314.0},{"i":16,"j":3,"t":312.9},{"i":17,"j":3,"t":312.5},{"i":18,"j":3,"t":312.15},{"i":19,"j":3,"t":311.85},{"i":20,"j":3,"t":311.75},{"i":21,"j":3,"t":311.45},{"i":22,"j":3,"t":311.25},{"i":23,"j":3,"t":311.05},{"i":24,"j":3,"t":310.85},
{"i":15,"j":4,"t":313.7},{"i":16,"j":4,"t":312.75},{"i":17,"j":4,"t":312.4},{"i":18,"j":4,"t":312.1},{"i":19,"j":4,"t":311.8},{"i":20,"j":4,"t":311.6},{"i":21,"j":4,"t":311.35},{"i":22,"j":4,"t":311.15},{"i":23,"j":4,"t":310.9},{"i":24,"j":4,"t":310.8},
{"i":15,"j":5,"t":313.4},{"i":16,"j":5,"t":312.65},{"i":17,"j":5,"t":312.25},{"i":18,"j":5,"t":312.0},{"i":19,"j":5,"t":311.7},{"i":20,"j":5,"t":311.5},{"i":21,"j":5,"t":311.25},{"i":22,"j":5,"t":311.05},{"i":23,"j":5,"t":310.85},{"i":24,"j":5,"t":310.75},
{"i":15,"j":6,"t":313.0},{"i":16,"j":6,"t":312.5},{"i":17,"j":6,"t":312.2},{"i":18,"j":6,"t":311.9},{"i":19,"j":6,"t":311.6},{"i":20,"j":6,"t":311.35},{"i":21,"j":6,"t":311.15},{"i":22,"j":6,"t":311.0},{"i":23,"j":6,"t":310.75},{"i":24,"j":6,"t":310.6},
{"i":15,"j":7,"t":312.7},{"i":16,"j":7,"t":312.4},{"i":17,"j":7,"t":312.05},{"i":18,"j":7,"t":311.75},{"i":19,"j":7,"t":311.5},{"i":20,"j":7,"t":311.25},{"i":21,"j":7,"t":311.1},{"i":22,"j":7,"t":310.85},{"i":23,"j":7,"t":310.65},{"i":24,"j":7,"t":310.55},
{"i":15,"j":8,"t":312.5},{"i":16,"j":8,"t":312.2},{"i":17,"j":8,"t":311.85},{"i":18,"j":8,"t":311.6},{"i":19,"j":8,"t":311.4},{"i":20,"j":8,"t":311.15},{"i":21,"j":8,"t":310.95},{"i":22,"j":8,"t":310.7},{"i":23,"j":8,"t":310.6},{"i":24,"j":8,"t":310.45},
{"i":15,"j":9,"t":312.35},{"i":16,"j":9,"t":312.0},{"i":17,"j":9,"t":311.7},{"i":18,"j":9,"t":311.5},{"i":19,"j":9,"t":311.25},{"i":20,"j":9,"t":311.05},{"i":21,"j":9,"t":310.8},{"i":22,"j":9,"t":310.6},{"i":23,"j":9,"t":310.5},{"i":24,"j":9,"t":310.4},
{"i":15,"j":10,"t":312.1},{"i":16,"j":10,"t":311.8},{"i":17,"j":10,"t":311.55},{"i":18,"j":10,"t":311.3},{"i":19,"j":10,"t":311.05},{"i":20,"j":10,"t":310.9},{"i":21,"j":10,"t":310.65},{"i":22,"j":10,"t":310.55},{"i":23,"j":10,"t":310.4},{"i":24,"j":10,"t":310.3},
{"i":15,"j":11,"t":311.9},{"i":16,"j":11,"t":311.6},{"i":17,"j":11,"t":311.35},{"i":18,"j":11,"t":311.1},{"i":19,"j":11,"t":310.95},{"i":20,"j":11,"t":310.75},{"i":21,"j":11,"t":310.55},{"i":22,"j":11,"t":310.45},{"i":23,"j":11,"t":310.35},{"i":24,"j":11,"t":310.3},
{"i":15,"j":12,"t":311.65},{"i":16,"j":12,"t":311.4},{"i":17,"j":12,"t":311.15},{"i":18,"j":12,"t":311.0},{"i":19,"j":12,"t":310.8},{"i":20,"j":12,"t":310.55},{"i":21,"j":12,"t":310.5},{"i":22,"j":12,"t":310.35},{"i":23,"j":12,"t":310.25},{"i":24,"j":12,"t":310.15},
{"i":15,"j":13,"t":311.4},{"i":16,"j":13,"t":311.25},{"i":17,"j":13,"t":311.0},{"i":18,"j":13,"t":310.85},{"i":19,"j":13,"t":310.65},{"i":20,"j":13,"t":310.5},{"i":21,"j":13,"t":310.35},{"i":22,"j":13,"t":310.25},{"i":23,"j":13,"t":310.2},{"i":24,"j":13,"t":310.1},
{"i":15,"j":14,"t":311.25},{"i":16,"j":14,"t":311.0},{"i":17,"j":14,"t":310.85},{"i":18,"j":14,"t":310.65},{"i":19,"j":14,"t":310.55},{"i":20,"j":14,"t":310.45},{"i":21,"j":14,"t":310.25},{"i":22,"j":14,"t":310.25},{"i":23,"j":14,"t":310.2},{"i":24,"j":14,"t":310.1},
{"i":0,"j":15,"t":314.5},{"i":1,"j":15,"t":314.4},{"i":2,"j":15,"t":314.2},{"i":3,"j":15,"t":314.0},{"i":4,"j":15,"t":313.7},{"i":5,"j":15,"t":313.4},{"i":6,"j":15,"t":313.0},{"i":7,"j":15,"t":312.7},{"i":8,"j":15,"t":312.5},{"i":9,"j":15,"t":312.35},{"i":10,"j":15,"t":312.1},{"i":11,"j":15,"t":311.9},{"i":12,"j":15,"t":311.65},{"i":13,"j":15,"t":311.4},{"i":14,"j":15,"t":311.25},{"i":15,"j":15,"t":311.0},{"i":16,"j":15,"t":310.9},{"i":17,"j":15,"t":310.7},{"i":18,"j":15,"t":310.5},{"i":19,"j":15,"t":310.4},{"i":20,"j":15,"t":310.25},{"i":21,"j":15,"t":310.25},{"i":22,"j":15,"t":310.2},{"i":23,"j":15,"t":310.15},{"i":24,"j":15,"t":310.05},
{"i":0,"j":16,"t":313.3},{"i":1,"j":16,"t":313.2},{"i":2,"j":16,"t":313.1},{"i":3,"j":16,"t":312.9},{"i":4,"j":16,"t":312.75},{"i":5,"j":16,"t":312.65},{"i":6,"j":16,"t":312.5},{"i":7,"j":16,"t":312.4},{"i":8,"j":16,"t":312.2},{"i":9,"j":16,"t":312.0},{"i":10,"j":16,"t":311.8},{"i":11,"j":16,"t":311.6},{"i":12,"j":16,"t":311.4},{"i":13,"j":16,"t":311.25},{"i":14,"j":16,"t":311.0},{"i":15,"j":16,"t":310.9},{"i":16,"j":16,"t":310.7},{"i":17,"j":16,"t":310.5},{"i":18,"j":16,"t":310.4},{"i":19,"j":16,"t":310.3},{"i":20,"j":16,"t":310.25},{"i":21,"j":16,"t":310.25},{"i":22,"j":16,"t":310.1},{"i":23,"j":16,"t":310.05},{"i":24,"j":16,"t":309.95},
{"i":0,"j":17,"t":312.6},{"i":1,"j":17,"t":312.6},{"i":2,"j":17,"t":312.5},{"i":3,"j":17,"t":312.5},{"i":4,"j":17,"t":312.4},{"i":5,"j":17,"t":312.3},{"i":6,"j":17,"t":312.25},{"i":7,"j":17,"t":312.1},{"i":8,"j":17,"t":311.95},{"i":9,"j":17,"t":311.8},{"i":10,"j":17,"t":311.7},{"i":11,"j":17,"t":311.55},{"i":12,"j":17,"t":311.35},{"i":13,"j":17,"t":311.25},{"i":14,"j":17,"t":311.1},{"i":15,"j":17,"t":310.95},{"i":16,"j":17,"t":310.75},{"i":17,"j":17,"t":310.65},{"i":18,"j":17,"t":310.55},{"i":19,"j":17,"t":310.45},{"i":20,"j":17,"t":310.4},{"i":21,"j":17,"t":310.3},{"i":22,"j":17,"t":310.2},{"i":23,"j":17,"t":310.1},{"i":24,"j":17,"t":310.1},
{"i":0,"j":18,"t":312.3},{"i":1,"j":18,"t":312.3},{"i":2,"j":18,"t":312.3},{"i":3,"j":18,"t":312.2},{"i":4,"j":18,"t":312.2},{"i":5,"j":18,"t":312.15},{"i":6,"j":18,"t":312.1},{"i":7,"j":18,"t":312.0},{"i":8,"j":18,"t":311.85},{"i":9,"j":18,"t":311.75},{"i":10,"j":18,"t":311.65},{"i":11,"j":18,"t":311.5},{"i":12,"j":18,"t":311.4},{"i":13,"j":18,"t":311.25},{"i":14,"j":18,"t":311.05},{"i":15,"j":18,"t":310.9},{"i":16,"j":18,"t":310.8},{"i":17,"j":18,"t":310.7},{"i":18,"j":18,"t":310.65},{"i":19,"j":18,"t":310.55},{"i":20,"j":18,"t":310.45},{"i":21,"j":18,"t":310.35},{"i":22,"j":18,"t":310.2},{"i":23,"j":18,"t":310.15},{"i":24,"j":18,"t":310.0},
{"i":0,"j":19,"t":312.1},{"i":1,"j":19,"t":312.1},{"i":2,"j":19,"t":312.1},{"i":3,"j":19,"t":312.15},{"i":4,"j":19,"t":312.15},{"i":5,"j":19,"t":312.1},{"i":6,"j":19,"t":312.05},{"i":7,"j":19,"t":312.0},{"i":8,"j":19,"t":311.95},{"i":9,"j":19,"t":311.85},{"i":10,"j":19,"t":311.65},{"i":11,"j":19,"t":311.55},{"i":12,"j":19,"t":311.35},{"i":13,"j":19,"t":311.2},{"i":14,"j":19,"t":311.1},{"i":15,"j":19,"t":311.0},{"i":16,"j":19,"t":310.9},{"i":17,"j":19,"t":310.8},{"i":18,"j":19,"t":310.7},{"i":19,"j":19,"t":310.6},{"i":20,"j":19,"t":310.45},{"i":21,"j":19,"t":310.3},{"i":22,"j":19,"t":310.2},{"i":23,"j":19,"t":310.1},{"i":24,"j":19,"t":309.9},
{"i":0,"j":20,"t":312.15},{"i":1,"j":20,"t":312.15},{"i":2,"j":20,"t":312.15},{"i":3,"j":20,"t":312.15},{"i":4,"j":20,"t":312.15},{"i":5,"j":20,"t":312.1},{"i":6,"j":20,"t":312.0},{"i":7,"j":20,"t":311.95},{"i":8,"j":20,"t":311.85},{"i":9,"j":20,"t":311.7},{"i":10,"j":20,"t":311.55},{"i":11,"j":20,"t":311.4},{"i":12,"j":20,"t":311.15},{"i":13,"j":20,"t":311.05},{"i":14,"j":20,"t":311.0},{"i":15,"j":20,"t":310.85},{"i":16,"j":20,"t":310.8},{"i":17,"j":20,"t":310.7},{"i":18,"j":20,"t":310.6},{"i":19,"j":20,"t":310.45},{"i":20,"j":20,"t":310.3},{"i":21,"j":20,"t":310.2},{"i":22,"j":20,"t":310.1},{"i":23,"j":20,"t":309.95},{"i":24,"j":20,"t":309.7},
{"i":0,"j":21,"t":312.15},{"i":1,"j":21,"t":312.15},{"i":2,"j":21,"t":312.15},{"i":3,"j":21,"t":312.15},{"i":4,"j":21,"t":312.15},{"i":5,"j":21,"t":312.1},{"i":6,"j":21,"t":312.0},{"i":7,"j":21,"t":311.9},{"i":8,"j":21,"t":311.75},{"i":9,"j":21,"t":311.6},{"i":10,"j":21,"t":311.4},{"i":11,"j":21,"t":311.3},{"i":12,"j":21,"t":311.15},{"i":13,"j":21,"t":310.9},{"i":14,"j":21,"t":310.8},{"i":15,"j":21,"t":310.75},{"i":16,"j":21,"t":310.7},{"i":17,"j":21,"t":310.55},{"i":18,"j":21,"t":310.45},{"i":19,"j":21,"t":310.3},{"i":20,"j":21,"t":310.2},{"i":21,"j":21,"t":310.1},{"i":22,"j":21,"t":309.95},{"i":23,"j":21,"t":309.75},{"i":24,"j":21,"t":309.6},
{"i":0,"j":22,"t":312.15},{"i":1,"j":22,"t":312.15},{"i":2,"j":22,"t":312.15},{"i":3,"j":22,"t":312.15},{"i":4,"j":22,"t":312.15},{"i":5,"j":22,"t":312.05},{"i":6,"j":22,"t":312.0},{"i":7,"j":22,"t":311.9},{"i":8,"j":22,"t":311.7},{"i":9,"j":22,"t":311.55},{"i":10,"j":22,"t":311.4},{"i":11,"j":22,"t":311.25},{"i":12,"j":22,"t":311.05},{"i":13,"j":22,"t":310.9},{"i":14,"j":22,"t":310.7},{"i":15,"j":22,"t":310.65},{"i":16,"j":22,"t":310.5},{"i":17,"j":22,"t":310.4},{"i":18,"j":22,"t":310.3},{"i":19,"j":22,"t":310.2},{"i":20,"j":22,"t":310.1},{"i":21,"j":22,"t":309.95},{"i":22,"j":22,"t":309.75},{"i":23,"j":22,"t":309.6},{"i":24,"j":22,"t":309.45},
{"i":0,"j":23,"t":312.15},{"i":1,"j":23,"t":312.15},{"i":2,"j":23,"t":312.15},{"i":3,"j":23,"t":312.15},{"i":4,"j":23,"t":312.15},{"i":5,"j":23,"t":312.1},{"i":6,"j":23,"t":311.95},{"i":7,"j":23,"t":311.85},{"i":8,"j":23,"t":311.7},{"i":9,"j":23,"t":311.5},{"i":10,"j":23,"t":311.35},{"i":11,"j":23,"t":311.2},{"i":12,"j":23,"t":311.05},{"i":13,"j":23,"t":310.9},{"i":14,"j":23,"t":310.65},{"i":15,"j":23,"t":310.5},{"i":16,"j":23,"t":310.35},{"i":17,"j":23,"t":310.25},{"i":18,"j":23,"t":310.2},{"i":19,"j":23,"t":310.1},{"i":20,"j":23,"t":309.95},{"i":21,"j":23,"t":309.75},{"i":22,"j":23,"t":309.6},{"i":23,"j":23,"t":309.45},{"i":24,"j":23,"t":309.3}
]
},
"hconcat": [
{
"width": 32,
"height": 568,
"title": {"text": "T,[K]", "anchor": "start", "fontSize": 9, "fontWeight": "normal", "color": "#333333", "font": "Liberation Sans", "offset": -11.5, "dx": -4},
"layer": [
{"data": {"name": "bar"}, "mark": {"type": "rect", "height": 6},
"encoding": {
"y": {"field": "t", "type": "quantitative", "scale": {"domain": [298.662, 352.964], "nice": false, "zero": false},
"axis": {"orient": "right", "values": [300, 310, 320, 330, 340, 350], "format": "d", "tickSize": 7, "tickColor": "#404040", "tickWidth": 1, "domain": false, "grid": false, "labelFontSize": 25, "labelFont": "Liberation Sans", "labelColor": "#111111", "labelPadding": 4, "labelFlush": false, "labelOverlap": false, "title": null}},
"color": {"field": "t", "type": "quantitative", "legend": null,
"scale": {"domain": [300, 304, 307.5, 310, 312, 316.5, 320, 323, 326, 330, 334, 337.5, 340, 343, 346.5, 350], "range": ["#0000ff", "#0050ff", "#0088ff", "#00b4ff", "#00ffff", "#00ffb0", "#00ff88", "#00ff50", "#00ff10", "#70ff00", "#b0ff00", "#ffff00", "#ffc000", "#ff8000", "#ff4800", "#ff0000"], "interpolate": "rgb"}}
}},
{"data": {"name": "ticks"}, "mark": {"type": "rule", "color": "#404040", "strokeWidth": 1, "opacity": 0.7},
"encoding": {"y": {"field": "t", "type": "quantitative"}}},
{"data": {"values": [{"lo": 300, "hi": 350}]}, "mark": {"type": "rect", "fillOpacity": 0, "stroke": "#606060", "strokeWidth": 1},
"encoding": {"y": {"field": "lo", "type": "quantitative"}, "y2": {"field": "hi"}}}
]
},
{
"width": 602,
"height": 568,
"view": {"stroke": "#8c8c8c", "strokeWidth": 1.5},
"layer": [
{"data": {"name": "grid"}, "mark": {"type": "rect", "width": 25, "height": 24.6, "clip": true},
"encoding": {
"x": {"field": "i", "type": "quantitative", "scale": {"domain": [-0.5, 24.5], "nice": false, "zero": false}, "axis": null},
"y": {"field": "j", "type": "quantitative", "scale": {"domain": [-0.5, 23.5], "nice": false, "zero": false}, "axis": null},
"color": {"field": "t", "type": "quantitative", "legend": null,
"scale": {"domain": [300, 304, 307.5, 310, 312, 316.5, 320, 323, 326, 330, 334, 337.5, 340, 343, 346.5, 350], "range": ["#0000ff", "#0050ff", "#0088ff", "#00b4ff", "#00ffff", "#00ffb0", "#00ff88", "#00ff50", "#00ff10", "#70ff00", "#b0ff00", "#ffff00", "#ffc000", "#ff8000", "#ff4800", "#ff0000"], "interpolate": "rgb"}}
}},
{"data": {"name": "fine"}, "mark": {"type": "rect", "width": 12.6, "height": 12.4, "clip": true},
"encoding": {
"x": {"field": "i", "type": "quantitative"},
"y": {"field": "j", "type": "quantitative"},
"color": {"field": "t", "type": "quantitative", "legend": null}
}},
{"data": {"name": "note"}, "mark": {"type": "point", "shape": "M -1 0 C -1 -0.2845 -0.5523 -0.515 0 -0.515 C 0.5523 -0.515 1 -0.2845 1 0 C 1 0.2845 0.5523 0.515 0 0.515 C -0.5523 0.515 -1 0.2845 -1 0 Z", "size": 32761, "filled": false, "color": "#f00000", "strokeWidth": 3.5, "strokeJoin": "round", "opacity": 1, "clip": false},
"encoding": {"x": {"field": "i", "type": "quantitative"}, "y": {"field": "j", "type": "quantitative"}}}
]
}
]
}
